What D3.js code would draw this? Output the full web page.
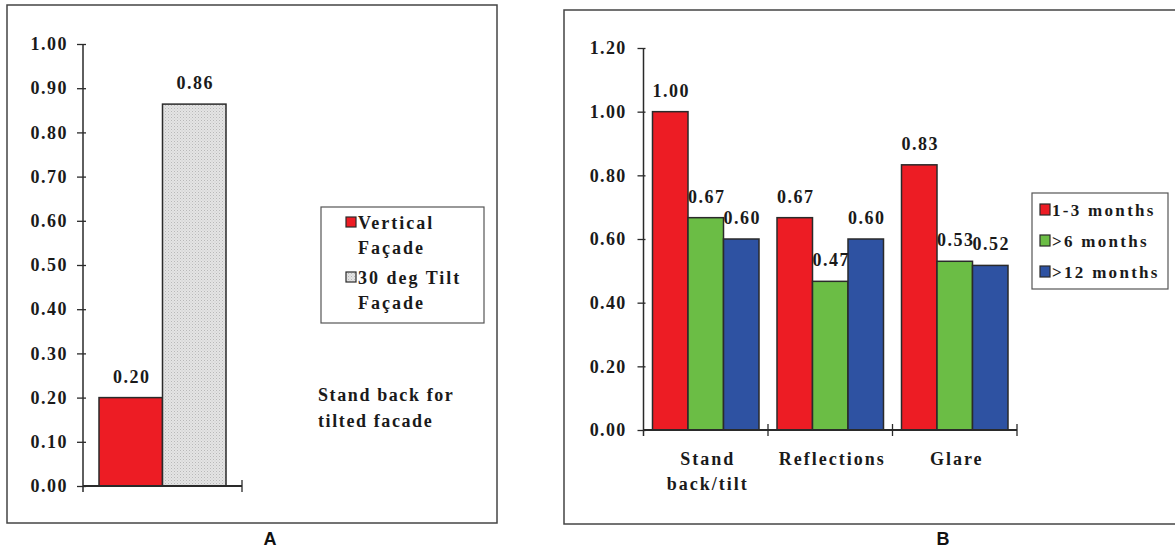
<!DOCTYPE html>
<html><head><meta charset="utf-8">
<script src="https://cdn.jsdelivr.net/npm/d3@7"></script>
<style>
body{margin:0;background:#fff;}
svg{display:block;}
</style></head>
<body>
<svg id="chart" width="1175" height="548"></svg>
<script>
// ---------- Panel A data ----------
const aCategories = ["Stand back for tilted facade"];
const aSeries = ["Vertical Façade", "30 deg Tilt Façade"];
const aValues = [0.20, 0.864];
const aTicks = [0,0.1,0.2,0.3,0.4,0.5,0.6,0.7,0.8,0.9,1.0];
const aLegendLines = [["Vertical","Façade"],["30 deg Tilt","Façade"]];
const aNote = ["Stand back for","tilted facade"];

// ---------- Panel B data ----------
const bCategories = ["Stand back/tilt","Reflections","Glare"];
const bCategoryLines = [["Stand","back/tilt"],["Reflections"],["Glare"]];
const bSeries = ["1-3 months", ">6 months", ">12 months"];
const bStand = [1.00, 0.667, 0.600];
const bReflections = [0.667, 0.467, 0.600];
const bGlare = [0.833, 0.530, 0.517];
const bTicks = [0,0.2,0.4,0.6,0.8,1.0,1.2];

const SERIF = "'Liberation Serif', 'Times New Roman', 'DejaVu Serif', serif";
const svg = d3.select("#chart");
const fmt = d3.format(".2f");
const ink = "#2a2a2a";

function label(sel, size, ls){
  return sel.attr("font-family", SERIF).attr("font-weight","bold").attr("fill","#1a1a1a")
    .style("font-family", SERIF).style("font-weight","700").style("font-size", size).style("letter-spacing", ls);
}

// dotted gray pattern
const defs = svg.append("defs");
const pat = defs.append("pattern").attr("id","dots").attr("width",3).attr("height",3).attr("patternUnits","userSpaceOnUse");
pat.append("rect").attr("width",3).attr("height",3).attr("fill","#e4e4e4");
pat.append("rect").attr("x",0).attr("y",0).attr("width",1).attr("height",1).attr("fill","#b8b8b8");
pat.append("rect").attr("x",1.5).attr("y",1.5).attr("width",1).attr("height",1).attr("fill","#c8c8c8");

// panel frames
svg.append("rect").attr("x",7).attr("y",5).attr("width",490).attr("height",518)
  .attr("fill","none").attr("stroke","#444").attr("stroke-width",1.5);
svg.append("rect").attr("x",564).attr("y",10).attr("width",620).attr("height",514)
  .attr("fill","none").attr("stroke","#444").attr("stroke-width",1.5);
svg.append("text").attr("x",270).attr("y",545).attr("text-anchor","middle")
  .style("font-family","'Liberation Sans', Arial, sans-serif").style("font-weight","bold").style("font-size","18px").style("fill","#111").text("A");
svg.append("text").attr("x",943).attr("y",545).attr("text-anchor","middle")
  .style("font-family","'Liberation Sans', Arial, sans-serif").style("font-weight","bold").style("font-size","18px").style("fill","#111").text("B");

function styleAxis(g, fs, ls){
  label(g.selectAll("text"), fs, ls);
  g.selectAll("line").attr("stroke",ink).attr("stroke-width",1.3);
  g.select(".domain").remove();
}

// ================= Panel A =================
{
  const y = d3.scaleLinear().domain([0,1]).range([486,44]);
  const x0 = d3.scaleBand().domain(aCategories).range([83,242]).paddingInner(0).paddingOuter(0);
  const x1 = d3.scaleBand().domain(aSeries).range([16, x0.bandwidth()-16]);
  const g = svg.append("g");
  const fills = ["#ED1C24","url(#dots)"];

  aValues.forEach((v,i)=>{
    g.append("rect").attr("x",x0(aCategories[0])+x1(aSeries[i])).attr("y",y(v))
      .attr("width",x1.bandwidth()).attr("height",y(0)-y(v))
      .attr("fill",fills[i]).attr("stroke",ink).attr("stroke-width",1.5);
    label(g.append("text").attr("x",x0(aCategories[0])+x1(aSeries[i])+x1.bandwidth()/2+1).attr("y",y(v)-15)
      .attr("text-anchor","middle"),"18px","1.5px").text(fmt(v));
  });

  const ya = g.append("g").attr("transform","translate(83,0)")
    .call(d3.axisLeft(y).tickValues(aTicks).tickFormat(fmt).tickSizeInner(6).tickSizeOuter(0).tickPadding(9));
  styleAxis(ya,"18px","1.5px");
  ya.selectAll(".tick line").attr("x1",3);
  g.append("line").attr("x1",83).attr("x2",83).attr("y1",y(1)).attr("y2",y(0)+6).attr("stroke",ink).attr("stroke-width",1.5);
  g.append("line").attr("x1",x0.range()[0]).attr("x2",x0.range()[1]).attr("y1",y(0)).attr("y2",y(0)).attr("stroke",ink).attr("stroke-width",1.8);
  g.append("line").attr("x1",x0.range()[1]).attr("x2",x0.range()[1]).attr("y1",y(0)-6).attr("y2",y(0)+6).attr("stroke",ink).attr("stroke-width",1.3);

  g.append("rect").attr("x",321).attr("y",207).attr("width",163).attr("height",116)
    .attr("fill","#fff").attr("stroke","#555").attr("stroke-width",1.2);
  aSeries.forEach((s,i)=>{
    const yy = 217 + i*55;
    g.append("rect").attr("x",346).attr("y",yy).attr("width",10).attr("height",10)
      .attr("fill",fills[i]).attr("stroke",ink).attr("stroke-width",1.2);
    aLegendLines[i].forEach((t,j)=>{
      label(g.append("text").attr("x",358).attr("y",yy+12+j*25),"18px","2px").text(t);
    });
  });
  aNote.forEach((t,j)=>{
    label(g.append("text").attr("x",318).attr("y",401+j*26),"18px","1.6px").text(t);
  });
}

// ================= Panel B =================
{
  const y = d3.scaleLinear().domain([0,1.2]).range([430,48]);
  const x0 = d3.scaleBand().domain(bCategories).range([643.5,1017]).paddingInner(0).paddingOuter(0);
  const x1 = d3.scaleBand().domain(bSeries).range([9, x0.bandwidth()-9]);
  const colors = ["#ED1C24","#6BBD45","#2E52A2"];
  const rows = [bStand,bReflections,bGlare];
  const g = svg.append("g");

  bCategories.forEach((c,ci)=>{
    rows[ci].forEach((v,si)=>{
      const bx = x0(c)+x1(bSeries[si]);
      g.append("rect").attr("x",bx).attr("y",y(v)).attr("width",x1.bandwidth()).attr("height",y(0)-y(v))
        .attr("fill",colors[si]).attr("stroke",ink).attr("stroke-width",1.5);
    });
  });
  bCategories.forEach((c,ci)=>{
    rows[ci].forEach((v,si)=>{
      const bx = x0(c)+x1(bSeries[si]);
      label(g.append("text").attr("x",bx+x1.bandwidth()/2+1).attr("y",y(v)-15).attr("text-anchor","middle"),
        "18px","1.5px").text(fmt(v));
    });
  });

  const ya = g.append("g").attr("transform","translate(643.5,0)")
    .call(d3.axisLeft(y).tickValues(bTicks).tickFormat(fmt).tickSizeInner(6).tickSizeOuter(0).tickPadding(11));
  styleAxis(ya,"18px","1.3px");
  ya.selectAll(".tick line").attr("x1",2);
  g.append("line").attr("x1",643.5).attr("x2",643.5).attr("y1",y(1.2)).attr("y2",y(0)+6).attr("stroke",ink).attr("stroke-width",1.5);
  g.append("line").attr("x1",x0.range()[0]).attr("x2",x0.range()[1]).attr("y1",y(0)).attr("y2",y(0)).attr("stroke",ink).attr("stroke-width",1.8);
  bCategories.forEach((c,ci)=>{
    const tx = x0(c)+x0.bandwidth();
    g.append("line").attr("x1",tx).attr("x2",tx).attr("y1",y(0)-6).attr("y2",y(0)+6).attr("stroke",ink).attr("stroke-width",1.3);
    bCategoryLines[ci].forEach((t,j)=>{
      label(g.append("text").attr("x",x0(c)+x0.bandwidth()/2+2).attr("y",465+j*25).attr("text-anchor","middle"),
        "18px","2px").text(t);
    });
  });

  g.append("rect").attr("x",1032).attr("y",193).attr("width",136).attr("height",96)
    .attr("fill","#fff").attr("stroke","#555").attr("stroke-width",1.2);
  bSeries.forEach((s,i)=>{
    const yy = 204 + i*31;
    g.append("rect").attr("x",1040).attr("y",yy).attr("width",10).attr("height",11)
      .attr("fill",colors[i]).attr("stroke",ink).attr("stroke-width",1.2);
    label(g.append("text").attr("x",1052).attr("y",yy+12),"17px","2.3px").text(s);
  });
}
</script>
</body></html>
